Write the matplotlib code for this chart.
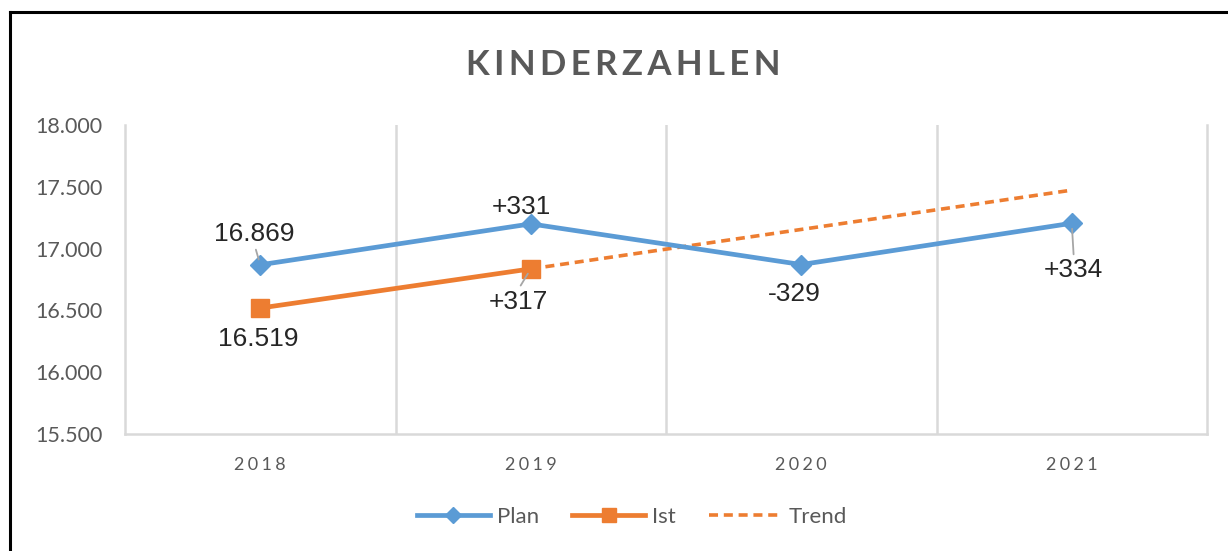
import matplotlib
matplotlib.use("Agg")
import matplotlib.pyplot as plt
from matplotlib.lines import Line2D
from matplotlib.ticker import FuncFormatter, FixedLocator

years = ["2018", "2019", "2020", "2021"]
plan = [16869, 17200, 16871, 17205]
ist = [16519, 16836]
trend_years = ["2019", "2020", "2021"]
trend = [16836, 17155, 17473]
plan_labels = ["16.869", "+331", "-329", "+334"]
ist_labels = ["16.519", "+317"]
y_ticks = [15500, 16000, 16500, 17000, 17500, 18000]

BLUE = "#5B9BD5"
ORANGE = "#ED7D31"
GRAY = "#595959"
GRID = "#D9D9D9"
FONT = ["Lato", "DejaVu Sans"]

plt.rcParams["font.family"] = FONT

fig = plt.figure(figsize=(12.28, 5.51), dpi=100)
ax = fig.add_axes([125/1228, 1-434/551, (1207-125)/1228, (434-125)/551])

x = list(range(len(years)))
xi = [years.index(y) for y in years[:len(ist)]]
xt = [years.index(y) for y in trend_years]

ax.plot(x, plan, color=BLUE, lw=3.4, marker="D", ms=10, label="Plan", zorder=4,
        solid_joinstyle="round")
ax.plot(xi, ist, color=ORANGE, lw=3.4, marker="s", ms=13, label="Ist", zorder=5)
ax.plot(xt, trend, color=ORANGE, lw=2.6, ls=(0, (2.5, 1.6)), label="Trend", zorder=3)

ax.set_xlim(-0.5, 3.5)
ax.set_ylim(y_ticks[0], y_ticks[-1])
ax.set_yticks(y_ticks)
ax.yaxis.set_major_formatter(FuncFormatter(lambda v, p: f"{int(v):,}".replace(",", ".")))
ax.set_xticks(x)
ax.set_xticklabels(["\u2009\u200a".join(y) for y in years])
ax.xaxis.set_minor_locator(FixedLocator([0.5, 1.5, 2.5]))
ax.grid(which="minor", axis="x", color=GRID, lw=1.8)
ax.tick_params(axis="both", which="both", length=0)
ax.tick_params(axis="y", labelsize=15.5, labelcolor=GRAY, pad=16)
ax.tick_params(axis="x", labelsize=13, labelcolor=GRAY, pad=16.5)
for s in ["left", "right", "bottom"]:
    ax.spines[s].set_color(GRID)
    ax.spines[s].set_linewidth(1.8)
ax.spines["top"].set_visible(False)

def lab(txt, xv, yv, dx, dy, leader=False, va="center"):
    kw = {}
    if leader:
        kw["arrowprops"] = dict(arrowstyle="-", color="#A6A6A6", lw=1.3,
                                shrinkA=1, shrinkB=4,
                                relpos=(0.5, 0.0) if dy > 0 else (0.5, 1.0))
    ax.annotate(txt, (xv, yv), xytext=(dx, dy), textcoords="offset points",
                ha="center", va=va, fontsize=19, color="#262626",
                family=["Liberation Sans", "DejaVu Sans"], zorder=6, **kw)

lab(plan_labels[0], x[0], plan[0], -4, 22.5, leader=True)
lab(plan_labels[1], x[1], plan[1], -7, 12.5)
lab(plan_labels[2], x[2], plan[2], -5, -21.5)
lab(plan_labels[3], x[3], plan[3], 1.5, -34, leader=True)
lab(ist_labels[0], xi[0], ist[0], -1.5, -22)
lab(ist_labels[1], xi[1], ist[1], -9, -23.5, leader=True)

fig.text(623/1228, 1-65/551, "\u2009".join("KINDERZAHLEN"),
         ha="center", va="center", fontsize=25, fontweight="bold", color=GRAY)

leg = fig.legend(loc="center", bbox_to_anchor=(632/1228, 1-517/551), ncol=3,
                 frameon=False, fontsize=16, handlelength=3.3, columnspacing=1.5,
                 handletextpad=0.3, markerscale=0.8)
for t in leg.get_texts():
    t.set_color(GRAY)

fig.add_artist(Line2D([10/1228, 10/1228], [0, 1-12/551], color="black", lw=2.2,
                      transform=fig.transFigure))
fig.add_artist(Line2D([10/1228, 1], [1-12/551, 1-12/551], color="black", lw=2.2,
                      transform=fig.transFigure))

fig.savefig("out.png", dpi=100)
